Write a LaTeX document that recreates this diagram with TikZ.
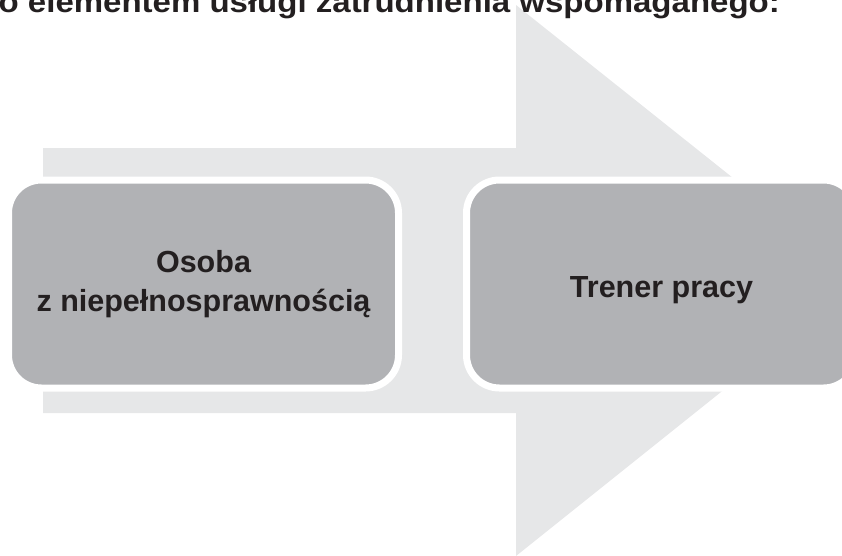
\documentclass[tikz,border=0pt]{standalone}
\usepackage{fontspec}
\setmainfont{Liberation Sans}
\newfontfamily\headfont[FakeStretch=1.1]{Liberation Sans}
\usetikzlibrary{positioning}

\definecolor{arrowgray}{HTML}{E6E7E8}
\definecolor{boxgray}{HTML}{B1B2B5}
\definecolor{inkblack}{HTML}{231F20}

\begin{document}
\begin{tikzpicture}[
        x=1pt, y=-1pt,
        node distance=68pt,
        stage/.style={rectangle, draw=white, line width=7pt, fill=boxgray, rounded corners=33pt, align=center, minimum width=390pt, minimum height=208pt, inner sep=0pt, outer sep=0pt, text=inkblack, font={\bfseries\fontsize{30.5}{38.5}\selectfont}, execute at begin node={\rule{0pt}{32.5pt}}},
        heading/.style={inner sep=0pt, text=inkblack, font={\headfont\bfseries\fontsize{30}{36}\selectfont}}
    ]
    \useasboundingbox (0,0) rectangle (842,555);
    \clip (0,0) rectangle (842,555);

    % Big background arrow
    \fill[arrowgray] (43,148) -- (516,148) -- (516,5) -- (861,280) -- (516,556) -- (516,413) -- (43,413) -- cycle;

    % Heading (cut off at the top)
    \node[heading, anchor=base east] (title) at (780,12) {o elementem usługi zatrudnienia wspomaganego:};

    % Stages
    \node[stage] (osoba) at (203.5,284) {Osoba\\z niepełnosprawnością};
    \node[stage, right=of osoba] (trener) {Trener pracy};

\end{tikzpicture}
\end{document}
